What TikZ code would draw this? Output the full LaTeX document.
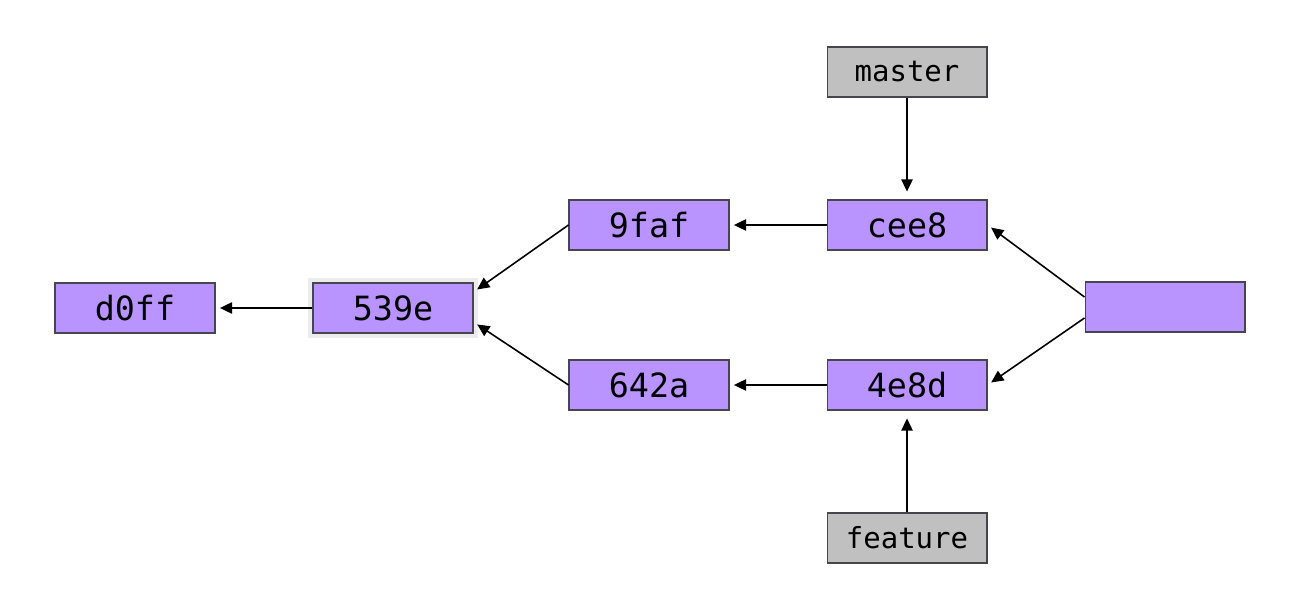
\documentclass[tikz,border=0pt]{standalone}
\usepackage{fontspec}
\setmonofont{DejaVu Sans Mono}
\usetikzlibrary{arrows.meta, positioning, fit, backgrounds}
\definecolor{CP}{RGB}{185,148,255}
\definecolor{BG}{RGB}{192,192,192}
\definecolor{DG}{RGB}{70,70,80}
\definecolor{HL}{RGB}{236,236,236}

\tikzset{
  commit/.style={draw=DG, fill=CP, line width=0.6pt, minimum width=3.2cm,
    minimum height=1cm, inner sep=0pt, font=\ttfamily\fontsize{19}{19}\selectfont},
  branch/.style={commit, fill=BG, font=\ttfamily\fontsize{16.5}{16.5}\selectfont},
  link/.style={-{Triangle[length=7pt,width=6.5pt]}, line width=0.9pt, shorten >=2.5pt}
}

\begin{document}
\begin{tikzpicture}[x=0.02cm, y=-0.02cm]
\useasboundingbox (0,0) rectangle (1300,607);

% commits
\node[commit] (d0ff) at (135,308) {d0ff};
\node[commit] (c539e) at (393,308) {539e};
\node[commit] (c9faf) at (649,225) {9faf};
\node[commit] (c642a) at (649,385) {642a};
\node[commit] (cee8) at (907,225) {cee8};
\node[commit] (c4e8d) at (907,385) {4e8d};
\node[commit] (top) at (1165,307) {};

% branches
\node[branch] (master) at (907,72) {master};
\node[branch] (feature) at (907,538) {feature};

\begin{scope}[on background layer]
  \node[fit=(c539e), inner sep=2.5pt, fill=HL] (hl) {};
\end{scope}

% parents
\draw[link] (c539e.west) -- (d0ff.east);
\draw[link] (c9faf.west) -- ([yshift=0.32cm]c539e.east);
\draw[link] (c642a.west) -- ([yshift=-0.28cm]c539e.east);
\draw[link] (cee8.west) -- (c9faf.east);
\draw[link] (c4e8d.west) -- (c642a.east);
\draw[link] ([yshift=0.2cm]top.west) -- (cee8.east);
\draw[link] ([yshift=-0.22cm]top.west) -- (c4e8d.east);

% refs
\draw[link, shorten >=4.5pt] (master.south) -- (cee8.north);
\draw[link, shorten >=4.5pt] (feature.north) -- (c4e8d.south);
\end{tikzpicture}
\end{document}
